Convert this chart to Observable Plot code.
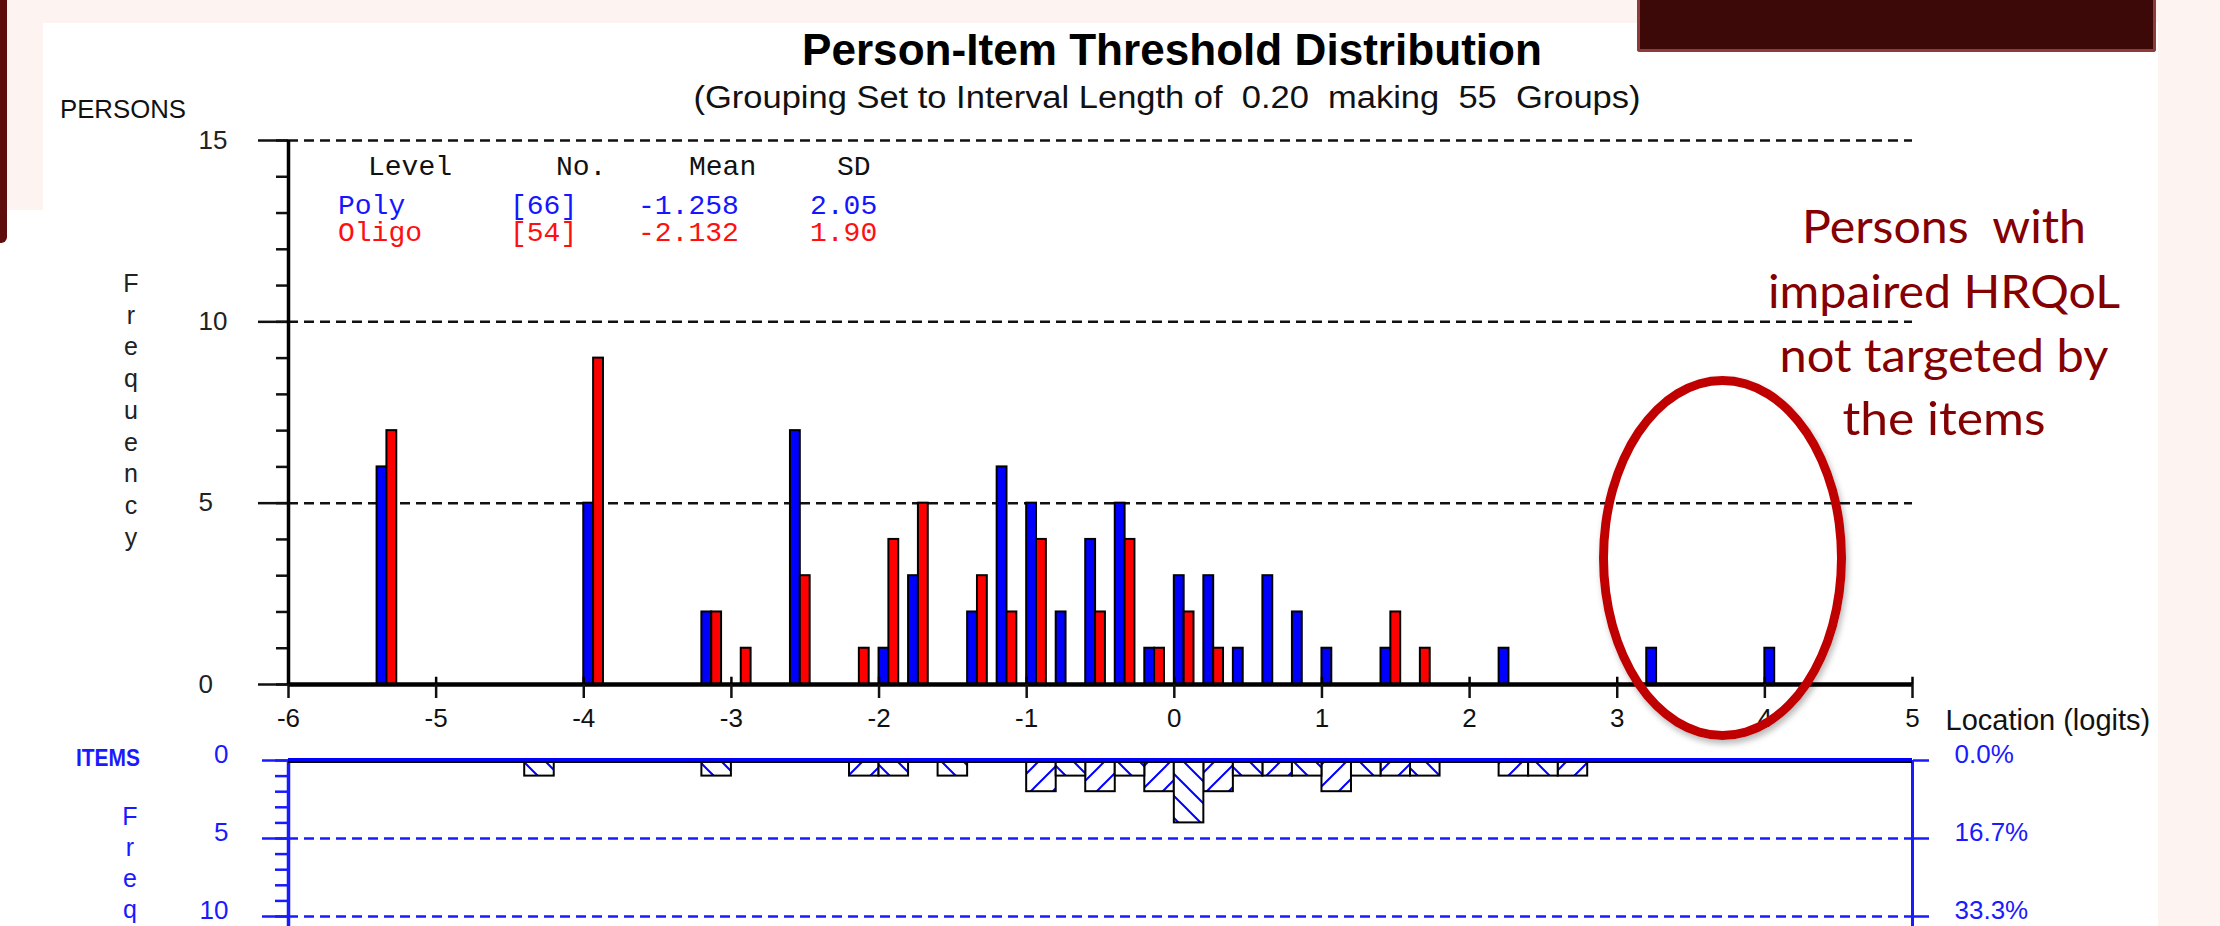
<!DOCTYPE html>
<html>
<head>
<meta charset="utf-8">
<script src="https://cdn.jsdelivr.net/npm/d3@7"></script>
<script src="https://cdn.jsdelivr.net/npm/@observablehq/plot@0.6"></script>
<style>
  html, body { margin: 0; padding: 0; }
  body { width: 2220px; height: 926px; overflow: hidden; background: #fdf3f1; position: relative;
         font-family: "Liberation Sans", Arial, sans-serif; }
  #white { position: absolute; left: 0; top: 23px; width: 2158px; height: 903px; background: #ffffff; }
  #pinkL { position: absolute; left: 0; top: 23px; width: 43px; height: 187px; background: #fdf3f1; }
  #barL { position: absolute; left: 0; top: 0; width: 7px; height: 243px; background: #5e0c0c; border-bottom-right-radius: 6px; }
  #boxR { position: absolute; left: 1637px; top: 0; width: 519px; height: 52px; box-sizing: border-box;
          background: #3c0808; border: 3px solid #8f3b3b; border-top: none; border-radius: 0 0 3px 3px; }
  #persons, #items { position: absolute; left: 0; }
  #persons { top: 0; }
  #items { top: 700px; height: 226px; overflow: hidden; }
  #ellipse { position: absolute; left: 1599px; top: 376px; width: 247px; height: 364px; box-sizing: border-box;
             border: 9px solid #c00000; border-radius: 50%; box-shadow: 2px 4px 6px rgba(0,0,0,0.28); }
  #overlay { position: absolute; left: 0; top: 0; pointer-events: none; }
</style>
</head>
<body>
<div id="white"></div>
<div id="pinkL"></div>
<div id="barL"></div>
<div id="boxR"></div>
<div id="persons"></div>
<div id="items"></div>
<div id="ellipse"></div>
<svg id="overlay" width="2220" height="926"></svg>

<script>
// ---------------- DATA ----------------
const xTicks = [-6, -5, -4, -3, -2, -1, 0, 1, 2, 3, 4, 5];
const intervalLength = 0.2;

// lower bound of each person group (interval of 0.20 logits)
const personGroups = [-5.4, -4.0, -3.2, -3.0, -2.6, -2.2, -2.0, -1.8, -1.4, -1.2, -1.0, -0.8, -0.6, -0.4, -0.2, 0.0, 0.2, 0.4, 0.6, 0.8, 1.0, 1.4, 1.6, 2.2, 3.2, 4.0];
const polyCounts   = [6, 5, 2, 0, 7, 0, 1, 3, 2, 6, 5, 2, 4, 5, 1, 3, 3, 1, 3, 2, 1, 1, 0, 1, 1, 1];
const oligoCounts  = [7, 9, 2, 1, 3, 1, 4, 5, 3, 2, 4, 0, 2, 4, 1, 2, 1, 0, 0, 0, 0, 2, 1, 0, 0, 0];

// lower bound of each item-threshold group and its frequency
const itemGroups = [-4.4, -3.2, -2.2, -2.0, -1.6, -1.0, -0.8, -0.6, -0.4, -0.2, 0.0, 0.2, 0.4, 0.6, 0.8, 1.0, 1.2, 1.4, 1.6, 2.2, 2.4, 2.6];
const itemCounts = [1, 1, 1, 1, 1, 2, 1, 2, 1, 2, 4, 2, 1, 1, 1, 2, 1, 1, 1, 1, 1, 1];

const personMajorTicks = [0, 5, 10, 15];
const personMinorTicks = [0, 1, 2, 3, 4, 5, 6, 7, 8, 9, 10, 11, 12, 13, 14, 15];
const personGrid = [5, 10, 15];
const itemMajorTicks = [0, 5, 10];
const itemMinorTicks = [0, 1, 2, 3, 4, 5, 6, 7, 8, 9, 10, 11, 12, 13, 14, 15];
const itemGrid = [5, 10];

// legend table
const legendHeader = ["Level", "No.", "Mean", "SD"];
const levelNames = ["Poly", "Oligo"];
const levelN     = [66, 54];
const levelMean  = [-1.258, -2.132];
const levelSD    = [2.05, 1.90];
const levelColors = ["#1515ff", "#ff1010"];

const titleText = "Person-Item Threshold Distribution";
const subtitleText = "(Grouping Set to Interval Length of  0.20  making  55  Groups)";
const personsLabel = "PERSONS";
const itemsLabel = "ITEMS";
const yLabelPersons = ["F", "r", "e", "q", "u", "e", "n", "c", "y"];
const yLabelItems = ["F", "r", "e", "q"];   // the rest of the word is below the picture's edge
const xLabel = "Location (logits)";
const noteLines = ["Persons  with", "impaired HRQoL", "not targeted by", "the items"];

// ---------------- BUILD ----------------
const BLUE = "#0000ff", RED = "#ff0000", AXBLUE = "#1a1aff";
const third = intervalLength / 3;

const polyData = personGroups.map((g, i) => ({x1: g, x2: g + third, n: polyCounts[i]})).filter(d => d.n > 0);
const oligoData = personGroups.map((g, i) => ({x1: g + third, x2: g + 2 * third, n: oligoCounts[i]})).filter(d => d.n > 0);
const itemData = itemGroups.map((g, i) => ({x1: g, x2: g + intervalLength, n: itemCounts[i],
  idx: Math.round((g - xTicks[0]) / intervalLength)}));
const itemTotal = d3.sum(itemCounts);

const W = 2220;
const font = "'Liberation Sans', Arial, sans-serif";

const persons = Plot.plot({
  width: W, height: 760,
  marginLeft: 288, marginRight: 308, marginTop: 140, marginBottom: 76,
  x: {domain: [xTicks[0], xTicks[xTicks.length - 1]]},
  y: {domain: [0, 15]},
  style: {background: "transparent", fontFamily: font, fontSize: "26px", color: "#111", overflow: "visible"},
  marks: [
    Plot.ruleY(personGrid, {stroke: "#111", strokeWidth: 2.5, strokeDasharray: "10,6"}),
    Plot.axisY({ticks: personMinorTicks, tickSize: 12, tickFormat: () => "", strokeWidth: 2.5, label: null}),
    Plot.axisY({ticks: personMajorTicks, tickSize: 30, tickFormat: () => "", strokeWidth: 2.5, label: null}),
    Plot.text(personMajorTicks, {y: d => d, frameAnchor: "left", dx: -90, textAnchor: "start", text: d => String(d), fontSize: 26, fill: "#222"}),
    Plot.ruleX([xTicks[0]], {y1: 0, y2: 15, strokeWidth: 3.5, stroke: "#000"}),
    Plot.rect(polyData, {x1: "x1", x2: "x2", y1: 0, y2: "n", fill: BLUE, stroke: "#000", strokeWidth: 2}),
    Plot.rect(oligoData, {x1: "x1", x2: "x2", y1: 0, y2: "n", fill: RED, stroke: "#000", strokeWidth: 2}),
    Plot.ruleY([0], {stroke: "#000", strokeWidth: 4.5}),
    Plot.axisX({ticks: xTicks, tickSize: 14, tickPadding: 10, tickFormat: d => String(d), strokeWidth: 2.5, label: null, fontSize: 26}),
    Plot.ruleX(xTicks, {y1: 0, y2: 0.2, stroke: "#000", strokeWidth: 2.5}),
    Plot.text([xLabel], {frameAnchor: "bottom-right", dx: 33, dy: 45, textAnchor: "start", fontSize: 29, fill: "#111"})
  ]
});
document.getElementById("persons").appendChild(persons);

const hatchDefs = () => {
  const defs = d3.create("svg:defs");
  const s = 22;
  const mk = (id, d) => {
    const p = defs.append("pattern").attr("id", id).attr("patternUnits", "userSpaceOnUse")
      .attr("width", s).attr("height", s);
    p.append("rect").attr("width", s).attr("height", s).attr("fill", "#fff");
    p.append("path").attr("d", d).attr("stroke", BLUE).attr("stroke-width", 2).attr("fill", "none");
  };
  mk("hatchF", `M0,${s} L${s},0 M${-s/4},${s/4} L${s/4},${-s/4} M${s*3/4},${s*5/4} L${s*5/4},${s*3/4}`);
  mk("hatchB", `M0,0 L${s},${s} M${-s/4},${s*3/4} L${s/4},${s*5/4} M${s*3/4},${-s/4} L${s*5/4},${s/4}`);
  return defs.node();
};

const items = Plot.plot({
  width: W, height: 300,
  marginLeft: 288, marginRight: 308, marginTop: 60, marginBottom: 6,
  x: {domain: [xTicks[0], xTicks[xTicks.length - 1]], axis: null},
  y: {domain: [0, 15], reverse: true},
  style: {background: "transparent", fontFamily: font, fontSize: "26px", color: AXBLUE, overflow: "visible"},
  marks: [
    hatchDefs,
    Plot.ruleY(itemGrid, {stroke: AXBLUE, strokeWidth: 2.5, strokeDasharray: "10,6"}),
    // left axis: minor ticks, major ticks, labels
    Plot.axisY({anchor: "left", ticks: itemMinorTicks, tickSize: 13, tickFormat: () => "", strokeWidth: 2.5, label: null}),
    Plot.axisY({anchor: "left", ticks: itemMajorTicks, tickSize: 26, tickFormat: () => "", strokeWidth: 2.5, label: null}),
    Plot.axisY({anchor: "left", ticks: itemMajorTicks, tickSize: 0, tickPadding: 60, tickFormat: d => String(d), label: null, fontSize: 26, dy: -6}),
    // right axis: ticks, percentage labels
    Plot.axisY({anchor: "right", ticks: itemMajorTicks, tickSize: 16, tickFormat: () => "", strokeWidth: 2.5, label: null}),
    Plot.axisY({anchor: "right", ticks: itemMajorTicks, tickSize: 0, tickPadding: 42,
      tickFormat: d => (d / itemTotal * 100).toFixed(1) + "%", label: null, fontSize: 26, dy: -6}),
    Plot.ruleX([xTicks[0]], {y1: 0, y2: 15, stroke: AXBLUE, strokeWidth: 3.5}),
    Plot.ruleX([xTicks[xTicks.length - 1]], {y1: 0, y2: 15, stroke: AXBLUE, strokeWidth: 3}),
    Plot.rect(itemData.filter(d => d.idx % 2 === 1), {x1: "x1", x2: "x2", y1: 0, y2: "n", fill: "url(#hatchF)", stroke: "#000", strokeWidth: 2}),
    Plot.rect(itemData.filter(d => d.idx % 2 === 0), {x1: "x1", x2: "x2", y1: 0, y2: "n", fill: "url(#hatchB)", stroke: "#000", strokeWidth: 2}),
    Plot.ruleY([0], {stroke: "#000", strokeWidth: 2, dy: 1.5}),
    Plot.ruleY([0], {stroke: BLUE, strokeWidth: 3, dy: -1})
  ]
});
document.getElementById("items").appendChild(items);

// ---------------- TEXT OVERLAY ----------------
const ov = d3.select("#overlay");
const addText = (txt, o) => {
  const t = ov.append("text").text(txt)
    .attr("x", o.x).attr("y", o.y)
    .attr("font-family", o.family || font)
    .attr("font-size", o.size)
    .attr("font-weight", o.weight || "normal")
    .attr("fill", o.fill || "#111")
    .attr("text-anchor", o.anchor || "start")
    .style("white-space", "pre");
  if (o.len) t.attr("textLength", o.len).attr("lengthAdjust", "spacingAndGlyphs");
  return t;
};

addText(titleText, {x: 1172, y: 65, size: 44, weight: "bold", anchor: "middle", len: 740, fill: "#000"});
addText(subtitleText, {x: 1167, y: 108, size: 31, anchor: "middle", len: 947, fill: "#111"});
addText(personsLabel, {x: 60, y: 118, size: 25, len: 126, fill: "#111"});

yLabelPersons.forEach((c, i) => addText(c, {x: 131, y: 292 + i * 31.7, size: 25, anchor: "middle", fill: "#222"}));
yLabelItems.forEach((c, i) => addText(c, {x: 130, y: 825 + i * 31, size: 25, anchor: "middle", fill: AXBLUE}));
addText(itemsLabel, {x: 108, y: 766, size: 23, weight: "bold", anchor: "middle", len: 64, fill: AXBLUE});

// legend table (monospace)
const mono = "'Liberation Mono', 'DejaVu Sans Mono', monospace";
const hdrX = [368, 556, 689, 837];
legendHeader.forEach((h, i) => addText(h, {x: hdrX[i], y: 175, size: 28, family: mono, fill: "#111"}));
const rowX = [338, 510, 638, 810];
levelNames.forEach((nm, r) => {
  const y = 214 + r * 27;
  const cells = [nm, `[${levelN[r]}]`, levelMean[r].toFixed(3), levelSD[r].toFixed(2)];
  cells.forEach((c, i) => addText(c, {x: rowX[i], y, size: 28, family: mono, fill: levelColors[r]}));
});

// annotation
const noteBase = [243, 308, 372, 435];
const noteLen = [284, 352, 329, 203];
noteLines.forEach((l, i) => addText(l, {x: 1944, y: noteBase[i], size: 47, anchor: "middle",
  family: "Lato, 'Open Sans', sans-serif", fill: "#850000", len: noteLen[i]}));
</script>
</body>
</html>
